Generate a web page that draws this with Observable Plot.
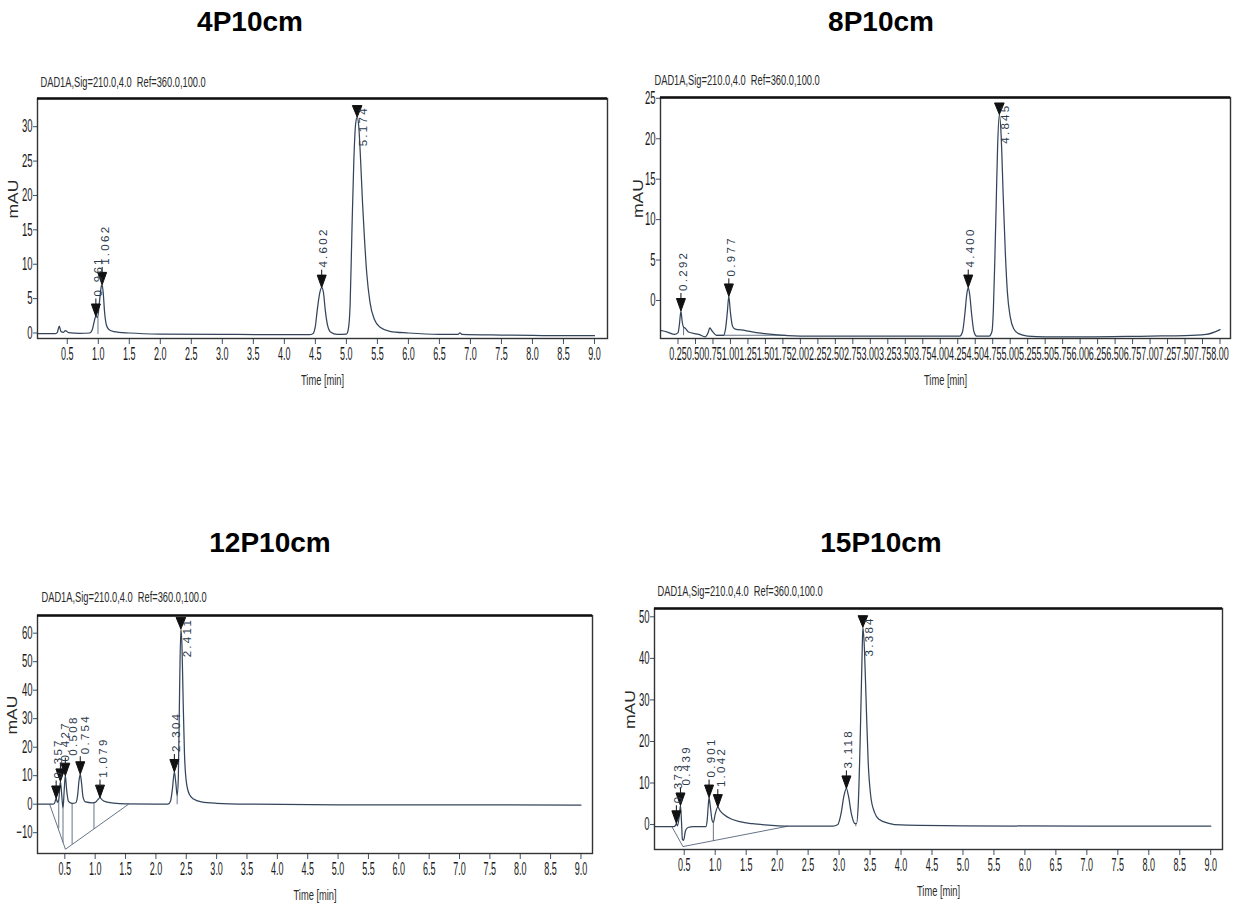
<!DOCTYPE html>
<html>
<head>
<meta charset="utf-8">
<script src="https://cdn.jsdelivr.net/npm/d3@7"></script>
<script src="https://cdn.jsdelivr.net/npm/@observablehq/plot@0.6"></script>
<style>
  body { margin: 0; background: #ffffff; }
  #root { position: relative; width: 1236px; height: 906px; overflow: hidden; font-family: "Liberation Sans", Arial, sans-serif; }
  .title { position: absolute; width: 300px; text-align: center; font-weight: bold; font-size: 28px; line-height: 28px; color: #000; }
  svg text { white-space: pre; }
</style>
</head>
<body>
<div id="root"></div>
<script>
// ---------------- DATA ----------------
const titles = ["4P10cm", "8P10cm", "12P10cm", "15P10cm"];
const header = "DAD1A,Sig=210.0,4.0  Ref=360.0,100.0";
const xLabel = "Time [min]";
const yLabel = "mAU";

// tick values
const ticksHalf = [0.5,1.0,1.5,2.0,2.5,3.0,3.5,4.0,4.5,5.0,5.5,6.0,6.5,7.0,7.5,8.0,8.5,9.0];
const ticksQuarter = [0.25,0.5,0.75,1.0,1.25,1.5,1.75,2.0,2.25,2.5,2.75,3.0,3.25,3.5,3.75,4.0,4.25,4.5,4.75,5.0,5.25,5.5,5.75,6.0,6.25,6.5,6.75,7.0,7.25,7.5,7.75,8.0];
const yTicks4P = [0,5,10,15,20,25,30];
const yTicks8P = [0,5,10,15,20,25];
const yTicks12P = [-10,0,10,20,30,40,50,60];
const yTicks15P = [0,10,20,30,40,50];

// axis ranges (min, mAU) read from the frames
const xDomain4P = [0.02, 9.21], yDomain4P = [-0.8, 34.1];
const xDomain8P = [0, 8.15],    yDomain8P = [-4.7, 25.1];
const xDomain12P = [0.05, 9.19], yDomain12P = [-17.3, 66.2];
const xDomain15P = [0.02, 9.19], yDomain15P = [-6.0, 52.0];

// signal traces [time (min), mAU]
const trace4P = [[0.02,-0.1],[0.30,-0.1],[0.34,0.1],[0.37,1.0],[0.40,0.2],[0.44,0.1],[0.47,0.35],[0.52,0.05],[0.70,-0.05],[0.86,0.0],[0.90,0.4],[0.93,1.5],[0.96,2.4],[0.99,2.3],[1.02,4.6],[1.045,6.6],[1.062,7.0],[1.08,5.8],[1.10,3.2],[1.13,1.2],[1.17,0.5],[1.25,0.2],[1.50,0.0],[2.00,-0.15],[3.00,-0.2],[4.00,-0.25],[4.40,-0.25],[4.46,-0.1],[4.50,1.0],[4.53,3.3],[4.57,5.8],[4.602,6.6],[4.63,5.9],[4.66,3.3],[4.70,1.0],[4.75,0.1],[4.85,-0.2],[5.00,-0.15],[5.03,0.5],[5.06,4.0],[5.09,15.0],[5.12,25.0],[5.15,30.5],[5.174,31.4],[5.20,30.0],[5.23,25.0],[5.26,19.0],[5.29,14.0],[5.33,8.5],[5.38,4.5],[5.45,2.0],[5.55,0.8],[5.70,0.25],[6.00,0.0],[6.50,-0.2],[6.80,-0.2],[6.83,0.0],[6.86,-0.2],[7.50,-0.3],[8.00,-0.35],[8.50,-0.4],[9.00,-0.4]];
const trace8P = [[0.00,-3.7],[0.10,-3.9],[0.20,-4.2],[0.25,-4.0],[0.27,-3.0],[0.292,-1.3],[0.31,-2.6],[0.33,-3.3],[0.35,-3.4],[0.40,-3.9],[0.55,-4.2],[0.64,-4.5],[0.68,-4.0],[0.705,-3.4],[0.74,-3.8],[0.80,-4.3],[0.90,-4.3],[0.93,-3.5],[0.955,-1.5],[0.977,0.5],[1.00,-1.5],[1.03,-3.2],[1.06,-3.5],[1.20,-3.7],[1.40,-4.0],[1.60,-4.2],[2.00,-4.4],[3.00,-4.4],[4.00,-4.4],[4.28,-4.4],[4.32,-3.8],[4.35,-1.8],[4.38,0.8],[4.40,1.6],[4.42,0.8],[4.45,-1.8],[4.48,-3.8],[4.52,-4.4],[4.70,-4.4],[4.74,-3.8],[4.76,-1.0],[4.78,5.0],[4.80,12.0],[4.82,19.0],[4.845,23.0],[4.87,20.5],[4.90,13.0],[4.93,6.0],[4.96,1.0],[5.00,-2.0],[5.05,-3.5],[5.12,-4.1],[5.25,-4.4],[5.50,-4.5],[6.00,-4.5],[7.00,-4.4],[7.50,-4.35],[7.80,-4.2],[8.00,-3.6]];
const trace12P = [[0.05,0.0],[0.30,0.0],[0.33,0.3],[0.357,2.0],[0.38,0.6],[0.40,1.5],[0.427,8.0],[0.45,3.0],[0.47,-1.5],[0.49,5.0],[0.508,10.0],[0.53,5.0],[0.56,1.0],[0.62,0.3],[0.68,0.5],[0.71,3.0],[0.735,8.5],[0.754,10.5],[0.775,7.5],[0.80,2.5],[0.84,0.8],[0.95,0.5],[1.00,0.6],[1.04,1.5],[1.079,2.3],[1.11,1.6],[1.18,0.8],[1.30,0.4],[1.50,0.1],[2.00,0.0],[2.20,0.0],[2.24,1.0],[2.27,5.0],[2.304,11.3],[2.33,7.0],[2.35,3.0],[2.37,10.0],[2.39,40.0],[2.411,61.5],[2.43,55.0],[2.45,35.0],[2.47,18.0],[2.50,8.0],[2.55,3.5],[2.62,1.8],[2.75,0.8],[3.00,0.3],[3.50,0.0],[5.00,-0.2],[9.00,-0.3]];
const trace15P = [[0.02,-0.5],[0.33,-0.5],[0.36,-0.2],[0.373,0.3],[0.39,-0.3],[0.42,2.0],[0.439,4.6],[0.455,1.0],[0.47,-3.5],[0.49,-3.8],[0.52,-1.5],[0.56,-0.7],[0.65,-0.5],[0.85,-0.5],[0.87,1.0],[0.89,5.0],[0.901,6.5],[0.92,4.5],[0.95,1.0],[0.97,0.5],[1.00,2.5],[1.042,4.2],[1.08,3.3],[1.15,2.3],[1.25,1.4],[1.40,0.7],[1.60,0.2],[1.80,-0.1],[2.20,-0.4],[2.90,-0.4],[2.98,0.0],[3.03,2.5],[3.08,7.0],[3.118,8.7],[3.15,7.0],[3.20,2.5],[3.25,0.3],[3.28,0.2],[3.31,5.0],[3.34,20.0],[3.37,40.0],[3.384,47.5],[3.41,42.0],[3.44,28.0],[3.47,15.0],[3.51,7.0],[3.57,3.0],[3.65,1.2],[3.80,0.3],[4.00,-0.1],[5.00,-0.3],[7.00,-0.4],[9.00,-0.4]];

// marked peaks: retention time label, apex mAU, time where the label sits, clipped (label below the apex)
const peaks4P = [{rt:"0.961", mau:2.4, at:0.961, clip:false},{rt:"1.062", mau:7.0, at:1.085, clip:false},{rt:"4.602", mau:6.6, at:4.602, clip:false},{rt:"5.174", mau:31.4, at:5.174, clip:true}];
const peaks8P = [{rt:"0.292", mau:-1.3, at:0.292, clip:false},{rt:"0.977", mau:0.5, at:0.977, clip:false},{rt:"4.400", mau:1.6, at:4.400, clip:false},{rt:"4.845", mau:23.0, at:4.845, clip:true}];
const peaks12P = [{rt:"0.357", mau:2.0, at:0.357, clip:false},{rt:"0.427", mau:8.0, at:0.47, clip:false},{rt:"0.508", mau:10.0, at:0.60, clip:false},{rt:"0.754", mau:10.5, at:0.80, clip:false},{rt:"1.079", mau:2.3, at:1.10, clip:false},{rt:"2.304", mau:11.3, at:2.304, clip:false},{rt:"2.411", mau:61.5, at:2.411, clip:true}];
const peaks15P = [{rt:"0.373", mau:0.3, at:0.373, clip:false},{rt:"0.439", mau:4.6, at:0.50, clip:false},{rt:"0.901", mau:6.5, at:0.901, clip:false},{rt:"1.042", mau:4.2, at:1.07, clip:false},{rt:"3.118", mau:8.7, at:3.118, clip:false},{rt:"3.384", mau:47.5, at:3.384, clip:true}];

// integration baselines / drop lines [t1, mAU1, t2, mAU2]
const segs4P = [[0.995,-0.15,0.995,2.3]];
const segs8P = [[0.33,-3.3,0.33,-4.3],[0.80,-4.3,1.80,-4.3]];
const segs12P = [[0.25,0,0.51,-15.8],[0.51,-15.8,1.55,0],[0.40,1.5,0.40,-8.5],[0.47,-1.5,0.47,-13.4],[0.62,0.3,0.62,-14.0],[0.98,0.5,0.98,-8.6],[2.35,3.0,2.35,0]];
const segs15P = [[0.30,-0.5,0.48,-5.3],[0.48,-5.3,2.17,-0.4],[0.97,0.5,0.97,-3.9],[3.27,0.25,3.27,-0.4]];

// ---------------- LAYOUT ----------------
const panels = [
  {title: titles[0], tx: 250, ty: 32, trace: trace4P, peaks: peaks4P, segs: segs4P, xDomain: xDomain4P, yDomain: yDomain4P, xTicks: ticksHalf, xFmt: ".1f", yTicks: yTicks4P,
   left: 0, top: 60, w: 618, h: 330, ml: 37, mt: 38, mr: 11, mb: 52, hdx: 3, hdy: -16, mdx: -24},
  {title: titles[1], tx: 881, ty: 32, trace: trace8P, peaks: peaks8P, segs: segs8P, xDomain: xDomain8P, yDomain: yDomain8P, xTicks: ticksQuarter, xFmt: ".2f", yTicks: yTicks8P,
   left: 618, top: 60, w: 618, h: 330, ml: 42, mt: 37, mr: 6, mb: 52, hdx: -6, hdy: -17, mdx: -22},
  {title: titles[2], tx: 270, ty: 553, trace: trace12P, peaks: peaks12P, segs: segs12P, xDomain: xDomain12P, yDomain: yDomain12P, xTicks: ticksHalf, xFmt: ".1f", yTicks: yTicks12P,
   left: 0, top: 575, w: 618, h: 331, ml: 37, mt: 40, mr: 26, mb: 53, hdx: 4, hdy: -18, mdx: -25},
  {title: titles[3], tx: 881, ty: 553, trace: trace15P, peaks: peaks15P, segs: segs15P, xDomain: xDomain15P, yDomain: yDomain15P, xTicks: ticksHalf, xFmt: ".1f", yTicks: yTicks15P,
   left: 618, top: 570, w: 618, h: 336, ml: 36, mt: 38, mr: 14, mb: 57, hdx: 3, hdy: -17, mdx: -24}
];

const traceColor = "#34455b";
const tickColor = "#3e5068";
const pin = {draw(ctx) { ctx.moveTo(0, 0); ctx.lineTo(-4.5, -12.5); ctx.lineTo(4.5, -12.5); ctx.closePath(); ctx.moveTo(0, -12.5); ctx.lineTo(0, -18); }};
const tri = {draw(ctx) { ctx.moveTo(0, 0); ctx.lineTo(-4.8, -11.5); ctx.lineTo(4.8, -11.5); ctx.closePath(); }};

const root = document.getElementById("root");

// condense (or stretch) a text element along its reading direction, about its anchor
function squashText(el, sx) {
  const tr = el.getAttribute("transform") || "";
  el.setAttribute("transform", `${tr} scale(${sx},1)`);
}

for (const p of panels) {
  const t = document.createElement("div");
  t.className = "title";
  t.textContent = p.title;
  t.style.left = (p.tx - 150) + "px";
  t.style.top = (p.ty - 24) + "px";
  root.appendChild(t);

  const trace = p.trace.map(([time, mau]) => ({time, mau}));
  const segs = p.segs.map(([x1, y1, x2, y2]) => ({x1, y1, x2, y2}));
  const open = p.peaks.filter(d => !d.clip);
  const clipped = p.peaks.filter(d => d.clip);

  const chart = Plot.plot({
    width: p.w, height: p.h,
    marginLeft: p.ml, marginRight: p.mr, marginTop: p.mt, marginBottom: p.mb,
    x: {domain: p.xDomain},
    y: {domain: p.yDomain},
    style: {fontFamily: "'Liberation Sans', Arial, sans-serif", fontSize: "18px", background: "transparent", color: "#222", overflow: "visible"},
    marks: [
      Plot.axisX({ticks: p.xTicks, tickFormat: d3.format(p.xFmt), tickSize: 6, tickPadding: 3, fontSize: 18, stroke: tickColor, fill: "#1a1a1a", label: null}),
      Plot.axisY({ticks: p.yTicks, tickSize: 4, tickPadding: 1, fontSize: 18, stroke: tickColor, fill: "#1a1a1a", label: null}),
      Plot.link(segs, {x1: "x1", y1: "y1", x2: "x2", y2: "y2", stroke: "#56657a", strokeWidth: 0.9}),
      Plot.line(trace, {x: "time", y: "mau", stroke: traceColor, strokeWidth: 1.25, curve: "monotone-x"}),
      Plot.frame({stroke: "#333", strokeWidth: 1.4}),
      Plot.ruleY([p.yDomain[1]], {stroke: "#111", strokeWidth: 2.6}),
      Plot.dot(open, {x: d => +d.rt, y: "mau", symbol: pin, r: 4, fill: "#111", stroke: "#111", strokeWidth: 1}),
      Plot.dot(clipped, {x: d => +d.rt, y: "mau", symbol: tri, r: 4, fill: "#111", stroke: "#111", strokeWidth: 1}),
      Plot.text(open, {x: "at", y: "mau", text: "rt", rotate: -90, textAnchor: "start", dx: 2, dy: -20, fontSize: 11.5, fill: "#2d3a4c"}),
      Plot.text(clipped, {x: d => +d.rt, y: "mau", text: "rt", rotate: -90, textAnchor: "end", dx: 6, dy: -11, fontSize: 11.5, fill: "#2d3a4c"}),
      Plot.text([header], {text: d => d, frameAnchor: "top-left", lineAnchor: "middle", textAnchor: "start", dx: p.hdx, dy: p.hdy, fontSize: 15.5, fill: "#2a2a2a"}),
      Plot.text([xLabel], {text: d => d, frameAnchor: "bottom", lineAnchor: "middle", dy: 42, fontSize: 15.5, fill: "#2a2a2a"}),
      Plot.text([yLabel], {text: d => d, frameAnchor: "left", dx: p.mdx, rotate: -90, fontSize: 14, fill: "#2a2a2a"})
    ]
  });
  chart.style.position = "absolute";
  chart.style.left = p.left + "px";
  chart.style.top = p.top + "px";
  root.appendChild(chart);

  const peakTexts = new Set(p.peaks.map(d => d.rt));
  chart.querySelectorAll('g[aria-label="x-axis tick label"] text').forEach(el => squashText(el, 0.5));
  chart.querySelectorAll('g[aria-label="y-axis tick label"] text').forEach(el => squashText(el, 0.53));
  chart.querySelectorAll('g[aria-label="text"] text').forEach(el => {
    const s = el.textContent;
    if (s === header) squashText(el, 0.6);
    else if (s === xLabel) squashText(el, 0.6);
    else if (s === yLabel) squashText(el, 1.25);
    else if (peakTexts.has(s)) el.style.letterSpacing = "2.3px";
  });
}
</script>
</body>
</html>
